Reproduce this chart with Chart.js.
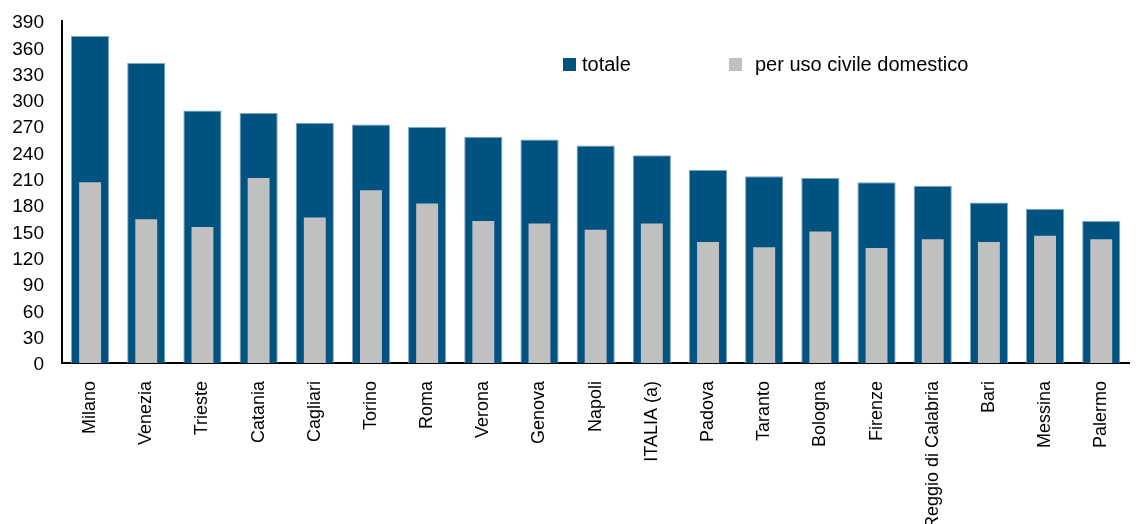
<!DOCTYPE html>
<html>
<head>
<meta charset="utf-8">
<script src="https://cdn.jsdelivr.net/npm/chart.js@4"></script>
<style>
  html, body { margin: 0; padding: 0; background: #fff; }
  #wrap { width: 1141px; height: 524px; }
</style>
</head>
<body>
<div id="wrap"><canvas id="myChart" width="1141" height="524"></canvas></div>
<script>
// Categories and values
const cities = ['Milano', 'Venezia', 'Trieste', 'Catania', 'Cagliari', 'Torino', 'Roma', 'Verona',
    'Genova', 'Napoli', 'ITALIA (a)', 'Padova', 'Taranto', 'Bologna', 'Firenze',
    'Reggio di Calabria', 'Bari', 'Messina', 'Palermo'];
const totale = [373, 342, 288, 285, 274, 272, 269, 258, 255, 248, 237, 220, 213, 211, 206, 202, 183, 176, 162];
const domestico = [206, 164, 155, 211, 166, 197, 182, 162, 159, 152, 159, 138, 132, 150, 131, 141, 138, 145, 141];
const yMax = 390;
const yStep = 30;

const FONT = "'Liberation Sans', Arial, sans-serif";

// Legend drawn inside the plot area, like the original
const insideLegend = {
    id: 'insideLegend',
    afterDraw(chart) {
        const ctx = chart.ctx;
        const spots = [563, 729]; // x of each legend box
        const gaps = [6, 13];     // box to text spacing
        ctx.save();
        ctx.font = '20px ' + FONT;
        ctx.textBaseline = 'middle';
        chart.data.datasets.forEach((ds, i) => {
            ctx.fillStyle = ds.backgroundColor;
            ctx.fillRect(spots[i], 58, 13, 13);
            ctx.fillStyle = '#000';
            ctx.fillText(ds.label, spots[i] + 13 + gaps[i], 65);
        });
        ctx.restore();
    }
};

const config = {
    type: 'bar',
    data: {
        labels: cities,
        datasets: [
            {
                label: 'totale',
                data: totale,
                backgroundColor: '#005280',
                borderColor: '#7fa6c2',
                borderWidth: 1,
                grouped: false,
                order: 1, // drawn underneath
                categoryPercentage: 1,
                barPercentage: 0.68
            },
            {
                label: 'per uso civile domestico',
                data: domestico,
                backgroundColor: '#c0c0c0',
                borderWidth: 0,
                grouped: false,
                order: 0,
                categoryPercentage: 1,
                barPercentage: 0.39
            }
        ]
    },
    options: {
        responsive: false,
        animation: false,
        layout: { padding: { left: 0, top: 21, right: 6, bottom: 0 } },
        plugins: {
            legend: { display: false },
            tooltip: { enabled: false }
        },
        scales: {
            x: {
                grid: { display: false, drawTicks: false },
                border: { display: true, color: '#000', width: 2 },
                ticks: {
                    color: '#000',
                    font: { family: FONT, size: 18 },
                    maxRotation: 90,
                    minRotation: 90,
                    autoSkip: false,
                    padding: 18
                },
                afterFit(scale) { scale.height = 161; }
            },
            y: {
                min: 0,
                max: yMax,
                grid: { display: false, drawTicks: false },
                border: { display: true, color: '#000', width: 2 },
                ticks: {
                    stepSize: yStep,
                    autoSkip: false,
                    color: '#000',
                    font: { family: FONT, size: 19 },
                    padding: 18,
                    labelOffset: 2
                },
                afterFit(scale) {
                    scale.width = 62;
                    scale.paddingTop = 0;
                    scale.paddingBottom = 0;
                }
            }
        }
    },
    plugins: [insideLegend]
};

const myChart = new Chart(document.getElementById('myChart'), config);
</script>
</body>
</html>
